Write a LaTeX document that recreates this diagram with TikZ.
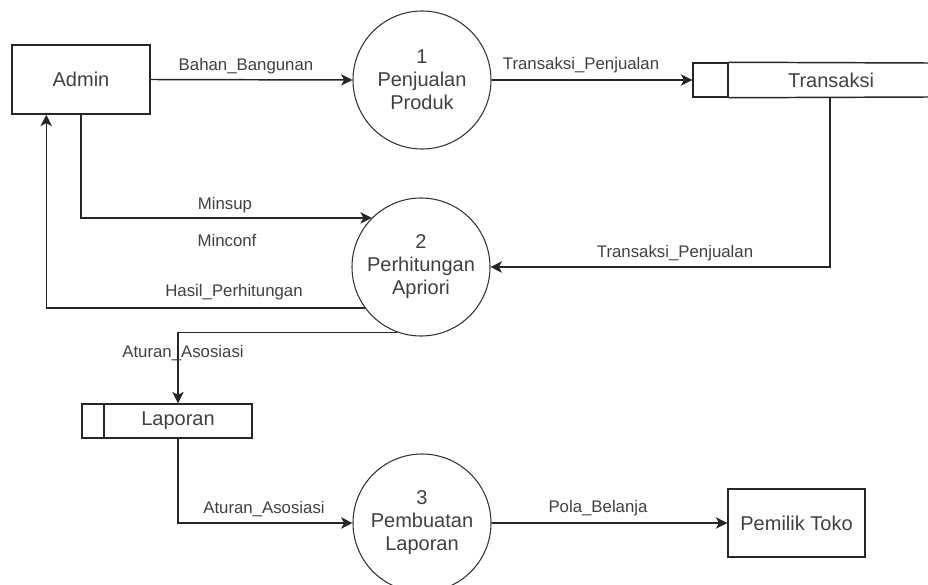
\documentclass[tikz,border=0pt]{standalone}
\usepackage{fontspec}
\setmainfont{Liberation Sans}
\usetikzlibrary{arrows.meta,calc}
\begin{document}
\begin{tikzpicture}[x=0.75pt,y=-0.75pt,
  flow/.style={draw=black!85,line width=1.1pt,-{Stealth[length=8.5pt,width=8.5pt,inset=2.2pt]}},
  proc/.style={circle,draw=black!80,line width=0.8pt,minimum size=103.5pt,inner sep=0pt,align=center,
    font=\fontsize{15}{17.25}\selectfont,text=black!75},
  ent/.style={rectangle,draw=black!85,line width=1.1pt,inner sep=0pt,
    font=\fontsize{15}{17}\selectfont,text=black!75},
  plain/.style={inner sep=0pt,font=\fontsize{15}{17}\selectfont,text=black!75},
  lbl/.style={font=\fontsize{12.6}{14}\selectfont,text=black!75,inner sep=0pt},
]
\useasboundingbox (0,0) rectangle (928,585);

% entities
\node[ent,minimum width=103.5pt,minimum height=51.75pt] (admin) at (81,79.5) {Admin};
\node[ent,minimum width=102.75pt,minimum height=51pt] (owner) at (796.5,523) {Pemilik Toko};

% processes
\node[proc] (p1) at (422,80) {1\\Penjualan\\Produk};
\node[proc] (p2) at (421,267) {2\\Perhitungan\\Apriori};
\node[proc] (p3) at (422,523) {3\\Pembuatan\\Laporan};

% data store Transaksi
\node[ent,minimum width=26.25pt,minimum height=25.5pt] (tid) at (710.5,80) {};
\node[plain,minimum width=154.5pt,minimum height=25.5pt] (trans) at (831,80) {Transaksi};
\coordinate (tendA) at (928,63);
\coordinate (tendB) at (928,97);
\draw[draw=black!85,line width=1.1pt] (tid.north east) -- (tendA);
\draw[draw=black!85,line width=1.1pt] (tid.south east) -- (tendB);

% data store Laporan
\node[ent,minimum width=111pt,minimum height=25.5pt] (lap) at (178,421) {Laporan};
\node[ent,minimum width=16.5pt,minimum height=25.5pt] (lapid) at (93,421) {};

% flows
\draw[flow] (admin.east) -- (p1.west);
\node[lbl] (l1) at (246,66) {Bahan\_Bangunan};

\draw[flow] (p1.east) -- (tid.west);
\node[lbl] (l2) at (581,65) {Transaksi\_Penjualan};

\draw[flow] ($(trans.south)+(-1,0)$) |- (p2.east);
\node[lbl] (l3) at (675,253) {Transaksi\_Penjualan};

\draw[flow] (admin.south) |- (p2.135);
\node[lbl] (l4) at (225,205) {Minsup};
\node[lbl] (l5) at (227,240) {Minconf};

\draw[flow] (p2.216) -| ($(admin.south west)+(35,0)$);
\node[lbl] (l6) at (234,292) {Hasil\_Perhitungan};

\draw[flow] (p2.250) -| (lap.north);
\node[lbl] (l7) at (183,353) {Aturan\_Asosiasi};

\draw[flow] (lap.south) |- (p3.west);
\node[lbl] (l8) at (264,509) {Aturan\_Asosiasi};

\draw[flow] (p3.east) -- (owner.west);
\node[lbl] (l9) at (598,508) {Pola\_Belanja};
\end{tikzpicture}
\end{document}
